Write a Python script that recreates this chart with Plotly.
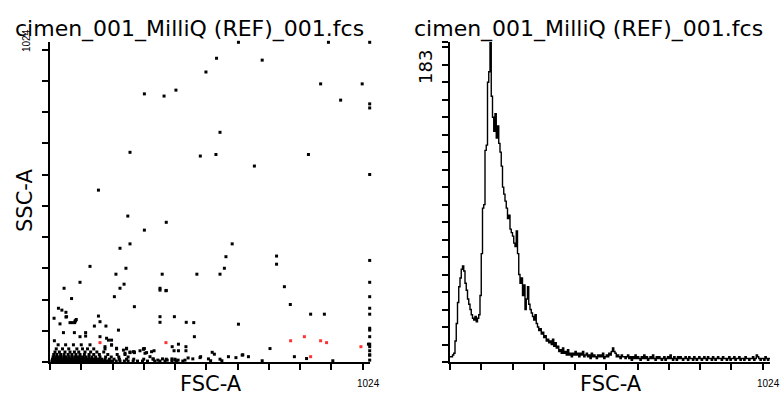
import plotly.graph_objects as go

W, H = 784, 396

title_text = "cimen_001_MilliQ (REF)_001.fcs"
x_label = "FSC-A"
y_label = "SSC-A"
x_max_label = "1024"
y_max_label = "1024"
hist_max_label = "183"

# ---- scatter (FSC-A vs SSC-A), channel units 0..1024 ----
fsc_black = [
    603, 891, 1023, 533, 679, 499, 866, 999, 302, 365, 403, 930, 1023, 1023, 544, 256, 481, 531, 827, 654, 1023, 155,
    249, 372, 302, 256, 224, 583, 563, 725, 725, 128, 243, 558, 211, 359, 470, 544, 1023, 96, 237, 224, 352, 372, 750,
    1023, 45, 206, 69, 1023, 270, 769, 1023, 27, 38, 51, 13, 51, 80, 84, 155, 352, 398, 834, 878, 1023, 352, 436, 460,
    603, 219, 1023, 1023, 1023, 462, 1023, 1023, 1023, 1023, 1023, 1023, 1019, 905, 352, 371,
    333, 397, 411, 391, 411, 435, 435, 482, 519, 526, 617, 635, 679, 704, 782, 821,
    330, 345, 360, 375, 390, 400, 410, 432, 442, 457, 480, 507, 514, 544, 550, 571, 595, 615,
    245, 256, 270, 288, 302, 309, 320, 187, 197, 176, 213, 235, 240, 267, 299, 304, 325,
    14, 43, 78, 114, 114, 96, 160, 181, 197, 142, 179, 160, 32, 64, 71, 79, 53, 82,
    # dense bottom band
    6, 12, 18, 24, 30, 36, 42, 48, 54, 60, 66, 72, 78, 84, 90, 96, 102, 108, 114, 120, 126, 132, 138, 144, 150, 156,
    162, 168, 174, 180, 186, 192, 200, 212, 224, 238, 250, 266, 280, 296, 312, 335, 352, 368, 390, 405, 425,
    8, 15, 22, 29, 36, 43, 50, 57, 64, 71, 78, 85, 92, 99, 106, 113, 120, 127, 134, 141, 148, 156, 165, 176, 190, 205,
    222, 245, 268, 300, 330, 372, 400,
    10, 18, 27, 35, 44, 52, 61, 70, 79, 88, 97, 105, 114, 124, 134, 146, 160, 178, 196, 220, 250,
    12, 22, 34, 45, 58, 70, 83, 96, 110, 125, 140, 158, 185, 215, 240,
    16, 30, 48, 64, 78, 92, 112, 130, 150, 172, 256, 270,
    20, 40, 60, 86, 104, 120, 140, 176, 213, 245, 299,
    26, 50, 75, 100, 128, 197,
]
ssc_black = [
    1023, 1023, 1023, 972, 966, 928, 890, 890, 858, 851, 870, 838, 826, 813, 735, 671, 659, 664, 664, 627, 600, 550,
    467, 447, 422, 378, 364, 378, 337, 339, 313, 306, 300, 300, 281, 281, 281, 281, 325, 255, 249, 236, 236, 229, 241,
    255, 236, 209, 203, 209, 177, 184, 172, 172, 166, 159, 140, 144, 131, 136, 147, 145, 145, 153, 153, 153, 127, 127, 126,
    121, 102, 108, 102, 81, 81, 57, 49, 36, 23, 6, 22, 57, 4, 230, 228,
    36, 36, 36, 49, 57, 49, 36, 17, 31, 25, 23, 17, 4, 43, 17, 11,
    10, 6, 10, 6, 10, 6, 6, 6, 13, 10, 14, 10, 4, 9, 4, 17, 14, 22,
    44, 30, 30, 36, 43, 30, 17, 70, 54, 49, 44, 38, 28, 33, 41, 28, 33,
    68, 94, 94, 94, 83, 81, 81, 76, 70, 115, 115, 129, 122, 126, 126, 126, 145, 132,
    # dense bottom band
    3, 3, 3, 3, 3, 3, 3, 3, 3, 3, 3, 3, 3, 3, 3, 3, 3, 3, 3, 3, 3, 3, 3, 3, 3, 3,
    3, 3, 3, 3, 3, 3, 3, 3, 3, 3, 3, 3, 3, 3, 3, 3, 3, 3, 3, 3, 3,
    9, 9, 9, 9, 9, 9, 9, 9, 9, 9, 9, 9, 9, 9, 9, 9, 9, 9, 9, 9, 9, 9, 9, 9, 9, 9,
    9, 9, 9, 9, 9, 9, 9,
    16, 16, 16, 16, 16, 16, 16, 16, 16, 16, 16, 16, 16, 16, 16, 16, 16, 16, 16, 16, 16,
    24, 24, 24, 24, 24, 24, 24, 24, 24, 24, 24, 24, 24, 24, 24,
    32, 32, 32, 32, 32, 32, 32, 32, 32, 32, 32, 32,
    42, 42, 42, 42, 42, 42, 42, 42, 42, 42, 42,
    55, 55, 55, 55, 55, 55,
]
fsc_red = [160, 371, 770, 814, 866, 885, 995, 834]
ssc_red = [62, 62, 68, 81, 68, 62, 49, 17]

# ---- histogram of FSC-A: 256 bins of 4 channels ----
hist_bin_width = 4
hist_counts = [
    3, 3, 4, 5, 12, 22, 34, 43, 48, 53,
    55, 52, 45, 41, 36, 33, 30, 27, 25, 24,
    26, 23, 25, 27, 38, 62, 88, 90, 121, 124,
    160, 166, 183, 152, 140, 132, 142, 128, 135, 125,
    120, 112, 100, 96, 92, 88, 82, 84, 76, 74,
    72, 68, 66, 75, 62, 50, 45, 48, 38, 44,
    30, 36, 43, 33, 30, 28, 26, 24, 27, 22,
    20, 18, 19, 16, 17, 14, 15, 12, 13, 11,
    12, 10, 13, 9, 11, 8, 9, 6, 7, 5,
    8, 5, 6, 4, 7, 4, 5, 3, 5, 4,
    6, 4, 5, 3, 5, 4, 6, 3, 4, 5,
    3, 4, 2, 5, 3, 4, 3, 2, 4, 3,
    4, 3, 5, 2, 3, 4, 3, 5, 4, 6,
    8, 6, 5, 3, 4, 3, 2, 4, 3, 3,
    2, 3, 4, 2, 3, 1, 3, 2, 4, 2,
    3, 2, 1, 3, 2, 4, 2, 3, 1, 2,
    3, 2, 4, 2, 1, 3, 2, 3, 2, 1,
    2, 3, 1, 2, 3, 2, 4, 2, 1, 3,
    2, 1, 3, 2, 3, 2, 1, 2, 3, 2,
    1, 3, 2, 2, 1, 3, 2, 1, 2, 3,
    2, 1, 2, 3, 2, 1, 3, 2, 2, 1,
    3, 2, 1, 2, 3, 2, 2, 1, 3, 2,
    2, 1, 2, 3, 1, 2, 2, 3, 1, 2,
    2, 3, 1, 2, 2, 1, 3, 2, 2, 1,
    2, 2, 3, 1, 2, 4, 3, 2, 1, 2,
    2, 1, 3, 2, 1, 2,
]
hist_x = [i * hist_bin_width for i in range(len(hist_counts))] + [len(hist_counts) * hist_bin_width]
hist_y = hist_counts + [hist_counts[-1]]

x_ticks = [0, 100, 200, 300, 400, 500, 600, 700, 800, 900, 1000]
y_ticks = [0, 100, 200, 300, 400, 500, 600, 700, 800, 900, 1000]
hist_ticks = [0, 10, 20, 30, 40, 50, 60, 70, 80, 90, 100, 110, 120, 130, 140, 150, 160, 170, 180, 183]


def px(x):
    return x / W


def py(y):
    return 1 - y / H


fig = go.Figure()
fig.add_trace(go.Scatter(x=fsc_black, y=ssc_black, mode="markers", xaxis="x", yaxis="y",
                         marker=dict(color="black", size=3, symbol="square", line=dict(width=0)),
                         cliponaxis=False, showlegend=False, hoverinfo="skip"))
fig.add_trace(go.Scatter(x=fsc_red, y=ssc_red, mode="markers", xaxis="x", yaxis="y",
                         marker=dict(color="#ff3333", size=3, symbol="square", line=dict(width=0)),
                         cliponaxis=False, showlegend=False, hoverinfo="skip"))
fig.add_trace(go.Scatter(x=hist_x, y=hist_y, mode="lines", xaxis="x2", yaxis="y2",
                         line=dict(color="black", width=1.4, shape="hv"),
                         cliponaxis=False, showlegend=False, hoverinfo="skip"))

axis_common = dict(showgrid=False, zeroline=False, showline=True, linecolor="black", linewidth=2,
                   ticks="outside", ticklen=6, tickwidth=1.5, tickcolor="black", showticklabels=False)

y_dom = [py(362), py(42)]
fig.update_layout(
    width=W, height=H,
    margin=dict(l=0, r=0, t=0, b=0),
    paper_bgcolor="white", plot_bgcolor="white",
    xaxis=dict(domain=[px(50), px(370)], range=[0, 1024], tickvals=x_ticks, anchor="y", **axis_common),
    yaxis=dict(domain=y_dom, range=[0, 1024], tickvals=y_ticks, anchor="x", **axis_common),
    xaxis2=dict(domain=[px(450), px(770)], range=[0, 1024], tickvals=x_ticks, anchor="y2", **axis_common),
    yaxis2=dict(domain=y_dom, range=[0, 183], tickvals=hist_ticks, anchor="x2", **axis_common),
)

font_main = "DejaVu Sans"
small_font = "Liberation Sans Narrow, Liberation Sans"
ann = []
ann.append(dict(x=px(189), y=py(29), text=title_text, font=dict(family=font_main, size=22, color="black")))
ann.append(dict(x=px(588), y=py(29), text=title_text, font=dict(family=font_main, size=22, color="black")))
ann.append(dict(x=px(211), y=py(384), text=x_label, font=dict(family=font_main, size=21, color="black")))
ann.append(dict(x=px(611), y=py(384), text=x_label, font=dict(family=font_main, size=21, color="black")))
ann.append(dict(x=px(25), y=py(201), text=y_label, textangle=-90, font=dict(family=font_main, size=21, color="black")))
ann.append(dict(x=px(368), y=py(383), text=x_max_label, font=dict(family=small_font, size=10, color="black")))
ann.append(dict(x=px(768), y=py(383), text=x_max_label, font=dict(family=small_font, size=10, color="black")))
ann.append(dict(x=px(26), y=py(41), text=y_max_label, textangle=-90, font=dict(family=small_font, size=10, color="black")))
ann.append(dict(x=px(425), y=py(67), text=hist_max_label, textangle=-90, font=dict(family=font_main, size=18, color="black")))
for a in ann:
    a.update(xref="paper", yref="paper", showarrow=False, xanchor="center", yanchor="middle")
fig.update_layout(annotations=ann)

fig.write_html("out.html", config={"displayModeBar": False},
               post_script="document.body.style.margin='0';")
